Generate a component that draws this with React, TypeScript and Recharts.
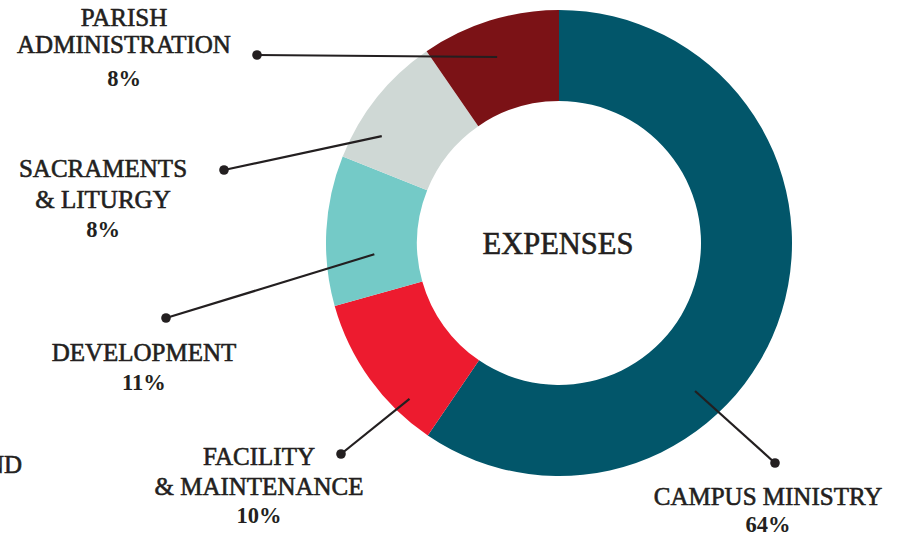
import React from "react";
import { PieChart, Pie, Cell } from "recharts";

// Data
const categories = ["CAMPUS MINISTRY", "FACILITY & MAINTENANCE", "DEVELOPMENT", "SACRAMENTS & LITURGY", "PARISH ADMINISTRATION"];
// slice sizes as drawn in the picture (share of the ring, in percent)
const sliceValues = [59.4, 11.1, 10.4, 9.3, 9.6];
// printed percentages
const printedPercents = ["64%", "10%", "11%", "8%", "8%"];
const labelLines: string[][] = [
  ["CAMPUS MINISTRY"],
  ["FACILITY", "& MAINTENANCE"],
  ["DEVELOPMENT"],
  ["SACRAMENTS", "& LITURGY"],
  ["PARISH", "ADMINISTRATION"],
];
const colors = ["#02566A", "#ED1B2F", "#74CAC7", "#CFD8D5", "#7B1216"];
const centerTitle = "EXPENSES";
const sideText = "FUND";

const data = categories.map((name, i) => ({ name, value: sliceValues[i] }));

// Annotation layout (leader lines & text placement)
const layout = [
  { a: 137.4, r: 201, dot: [775, 463], tx: 768, base: [505], pctBase: 532 },
  { a: 223.8, r: 216, dot: [341, 454], tx: 259, base: [465, 495], pctBase: 523 },
  { a: 266.5, r: 185, dot: [166, 318], tx: 144, base: [361], pctBase: 390 },
  { a: 301.1, r: 207, dot: [224, 170], tx: 103, base: [177, 208], pctBase: 237 },
  { a: 341.6, r: 196, dot: [257, 55], tx: 124, base: [26, 53], pctBase: 86 },
];

const TEXT = "#231F20";
const FONT = "'Liberation Serif', 'Times New Roman', serif";

const renderLabel = (props: any) => {
  const { cx, cy, index } = props;
  const L = layout[index];
  const rad = (L.a * Math.PI) / 180;
  const sx = cx + L.r * Math.sin(rad);
  const sy = cy - L.r * Math.cos(rad);
  return (
    <g key={`lbl-${index}`}>
      <line x1={sx} y1={sy} x2={L.dot[0]} y2={L.dot[1]} stroke={TEXT} strokeWidth={2.2} />
      <circle cx={L.dot[0]} cy={L.dot[1]} r={4.8} fill={TEXT} />
      {labelLines[index].map((t, j) => (
        <text
          key={j}
          x={L.tx}
          y={L.base[j]}
          textAnchor="middle"
          fontFamily={FONT}
          fontSize={25}
          fill={TEXT}
          stroke={TEXT}
          strokeWidth={0.6}
        >
          {t}
        </text>
      ))}
      <text
        x={L.tx}
        y={L.pctBase}
        textAnchor="middle"
        fontFamily={FONT}
        fontSize={22.5}
        fontWeight="bold"
        fill={TEXT}
      >
        {printedPercents[index]}
      </text>
    </g>
  );
};

export default function App() {
  return (
    <div style={{ position: "absolute", left: 0, top: 0, width: 898, height: 538, background: "#fff", overflow: "hidden" }}>
      <PieChart width={898} height={538} margin={{ top: 0, right: 0, bottom: 0, left: 0 }}>
        <Pie
          data={data}
          dataKey="value"
          nameKey="name"
          cx={559}
          cy={243}
          innerRadius={142}
          outerRadius={233}
          startAngle={90}
          endAngle={-270}
          stroke="none"
          isAnimationActive={false}
          labelLine={false}
          label={renderLabel}
        >
          {data.map((d, i) => (
            <Cell key={d.name} fill={colors[i]} />
          ))}
        </Pie>
      </PieChart>
      <svg width={898} height={538} style={{ position: "absolute", left: 0, top: 0, pointerEvents: "none" }}>
        <text x={558} y={254} textAnchor="middle" fontFamily={FONT} fontSize={30.5} fill={TEXT} stroke={TEXT} strokeWidth={0.6}>
          {centerTitle}
        </text>
        <text x={22} y={473} textAnchor="end" fontFamily={FONT} fontSize={25} fill={TEXT} stroke={TEXT} strokeWidth={0.6}>
          {sideText}
        </text>
      </svg>
    </div>
  );
}
